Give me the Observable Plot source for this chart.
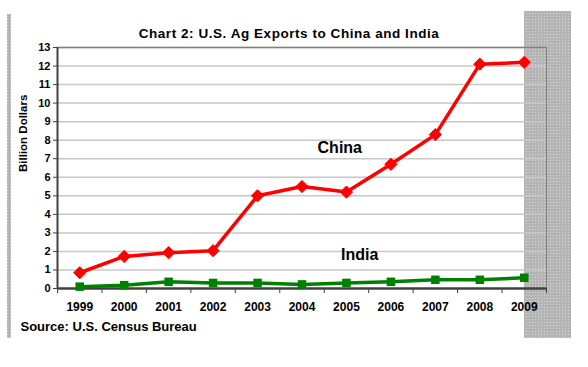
<!DOCTYPE html>
<html><head><meta charset="utf-8">
<script src="https://cdn.jsdelivr.net/npm/d3@7"></script>
<script src="https://cdn.jsdelivr.net/npm/@observablehq/plot@0.6"></script>
<style>body{margin:0;background:#fff} svg{display:block} .ttl text{letter-spacing:0.55px}</style>
</head><body><div id="chart"></div>
<script>
const years = [1999, 2000, 2001, 2002, 2003, 2004, 2005, 2006, 2007, 2008, 2009];
const china = [0.85, 1.73, 1.93, 2.04, 5.0, 5.5, 5.2, 6.7, 8.3, 12.1, 12.2];
const india = [0.1, 0.18, 0.36, 0.3, 0.3, 0.22, 0.3, 0.36, 0.47, 0.47, 0.58];
const yTicks = [0, 1, 2, 3, 4, 5, 6, 7, 8, 9, 10, 11, 12, 13];
const title = "Chart 2: U.S. Ag Exports to China and India";
const yLabel = "Billion Dollars";
const source = "Source: U.S. Census Bureau";
const seriesLabels = [{name: "China", year: 2004.85, value: 7.6}, {name: "India", year: 2005.3, value: 1.8}];

const chinaData = years.map((y, i) => ({year: y, value: china[i]}));
const indiaData = years.map((y, i) => ({year: y, value: india[i]}));
const bounds = years.map(y => y - 0.5).concat([years[years.length - 1] + 0.5]);
const font = "'Liberation Sans', Arial, sans-serif";

const chart = Plot.plot({
  width: 588, height: 367,
  marginLeft: 57, marginRight: 42, marginTop: 47, marginBottom: 79,
  style: {fontFamily: font, fontWeight: "bold", color: "#000", background: "transparent"},
  x: {type: "linear", domain: [1998.5, 2009.5]},
  y: {domain: [0, 13]},
  marks: [
    Plot.ruleY(yTicks.filter(d => d > 0), {stroke: "#c8c8c8", strokeWidth: 1.5}),
    Plot.ruleX([2009.5], {stroke: "#808080", strokeWidth: 1}),
    Plot.ruleY([13], {stroke: "#808080", strokeWidth: 1.5}),
    Plot.axisY({ticks: yTicks, tickSize: 4, tickPadding: 3, fontSize: 11, label: null, stroke: "#404040"}),
    Plot.axisX({ticks: bounds, tickSize: 5, tickFormat: () => "", label: null, stroke: "#404040"}),
    Plot.axisX({ticks: years, tickSize: 0, tickPadding: 14, tickFormat: d => String(d), fontSize: 12, label: null}),
    Plot.ruleX([1998.5], {y1: 0, y2: 13, stroke: "#404040", strokeWidth: 2}),
    Plot.ruleY([0], {stroke: "#404040", strokeWidth: 2.5}),
    Plot.line(indiaData, {x: "year", y: "value", stroke: "#008000", strokeWidth: 3.5}),
    Plot.dot(indiaData, {x: "year", y: "value", symbol: "square", fill: "#008000", r: 4.8}),
    Plot.line(chinaData, {x: "year", y: "value", stroke: "#ff0000", strokeWidth: 3.5}),
    Plot.dot(chinaData, {x: "year", y: "value", symbol: "diamond2", fill: "#ff0000", stroke: "#ff0000", strokeWidth: 1, r: 5.5}),
    Plot.text(seriesLabels, {x: "year", y: "value", text: "name", fontSize: 16, fontWeight: "bold", fill: "#000"}),
    Plot.text([title], {frameAnchor: "top", dx: -13, dy: -19, fontSize: 13.5, fontWeight: "bold", fill: "#000", className: "ttl"}),
    Plot.text([yLabel], {frameAnchor: "left", dx: -34, dy: 4, rotate: -90, fontSize: 11.5, fontWeight: "bold", fill: "#000"}),
    Plot.text([source], {frameAnchor: "bottom-left", dx: -37, dy: 42, textAnchor: "start", fontSize: 13, fontWeight: "bold", fill: "#000"})
  ]
});

// decorative dotted grey strips (behind the chart)
const ns = "http://www.w3.org/2000/svg";
const defs = document.createElementNS(ns, "defs");
defs.innerHTML = '<pattern id="dots" width="3" height="3" patternUnits="userSpaceOnUse"><rect width="3" height="3" fill="#b4b4b4"/><rect x="1" y="1" width="1" height="1" fill="#d8d8d8"/></pattern>';
const g = document.createElementNS(ns, "g");
g.innerHTML = '<rect x="7" y="14" width="4" height="324" fill="url(#dots)"/><rect x="524" y="11" width="47" height="327" fill="url(#dots)"/>';
chart.insertBefore(g, chart.firstChild);
chart.insertBefore(defs, chart.firstChild);
document.getElementById("chart").appendChild(chart);
</script>
</body></html>
